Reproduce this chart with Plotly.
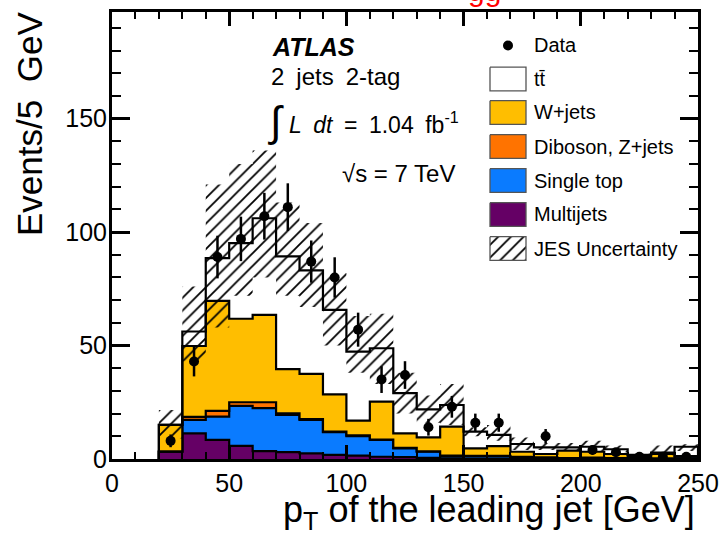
import plotly.graph_objects as go

# ---------------- data ----------------
bin_edges = [20, 30, 40, 50, 60, 70, 80, 90, 100, 110, 120, 130, 140, 150,
             160, 170, 180, 190, 200, 210, 220, 230, 240, 250]
bin_centers = [25, 35, 45, 55, 65, 75, 85, 95, 105, 115, 125, 135, 145, 155,
               165, 175, 185, 195, 205, 215, 225, 235, 245]

multijets = [3.2, 11.3, 8.4, 5.8, 3.5, 3.0, 2.5, 1.8, 1.5, 1.0, 0.8, 0.5, 0.3,
             0.2, 0.2, 0.1, 0.1, 0.0, 0.0, 0.0, 0.0, 0.0, 0.0]
single_top = [0.0, 5.9, 10.3, 17.6, 18.9, 16.4, 14.7, 10.0, 8.6, 7.4, 3.9, 2.7,
              1.0, 1.1, 1.1, 0.8, 0.5, 0.3, 0.5, 0.3, 0.3, 0.2, 1.0]
diboson_zjets = [0.2, 1.4, 2.5, 1.6, 2.6, 0.7, 0.4, 0.3, 0.3, 0.2, 0.2, 0.2,
                 0.2, 0.1, 0.1, 0.1, 0.1, 0.1, 0.1, 0.1, 0.1, 0.1, 0.0]
wjets = [11.6, 31.2, 48.5, 36.8, 38.5, 19.5, 19.9, 16.4, 6.5, 16.7, 6.4, 6.1,
         12.8, 3.3, 4.3, 2.2, 1.5, 3.3, 2.6, 1.8, 0.6, 1.9, 0.3]
ttbar = [0.0, 6.4, 18.8, 33.3, 42.6, 49.7, 45.6, 37.2, 30.4, 23.5, 17.7, 12.4,
         9.5, 7.4, 4.9, 3.4, 2.9, 1.4, 2.2, 2.1, 0.8, 0.6, 4.1]

jes_up = [21.6, 76, 121, 130, 136, 113, 104, 82, 63, 64, 38, 28, 33, 14, 15,
          9.5, 7, 7, 8, 6, 2.5, 6, 6.5]
jes_down = [9, 43, 58, 72, 80, 72, 67, 50, 38, 33, 20, 16, 15, 10, 8, 4, 4,
            3.5, 3.5, 3, 1, 1.5, 3.5]

data = [8, 43, 89, 97, 107, 111, 87, 80, 57, 35, 37, 14, 23, 16, 16, None, 10,
        None, 4, 3, 1, 1, 1]
data_err = [2.8, 6.6, 9.4, 9.8, 10.3, 10.5, 9.3, 8.9, 7.5, 5.9, 6.1, 3.7, 4.8,
            4.0, 4.0, 0, 3.2, 0, 2.0, 1.7, 1.0, 1.0, 1.0]

series_names = ["Multijets", "Single top", "Diboson, Z+jets", "W+jets", "tt\u0304"]
series_colors = ["#650065", "#0A7BFF", "#FF7300", "#FFBE00", "#FFFFFF"]

FONT = "Liberation Sans, Arial, Helvetica, sans-serif"

# plot-area geometry in pixels (used only to place labels / legend)
PL, PR, PT, PB = 112, 698, 12, 459


def px(x):
    return (x - PL) / (PR - PL)


def py(y):
    return (PB - y) / (PB - PT)


def step_xy(edges, vals):
    xs = [edges[0]] + list(edges) + [edges[-1]]
    ys = [0] + list(vals) + [vals[-1], 0]
    return xs, ys


fig = go.Figure()

# stacked histograms
components = [multijets, single_top, diboson_zjets, wjets, ttbar]
cum = [0.0] * len(bin_centers)
for i, (comp, name, col) in enumerate(zip(components, series_names, series_colors)):
    cum = [a + b for a, b in zip(cum, comp)]
    xs, ys = step_xy(bin_edges, cum)
    fig.add_trace(go.Scatter(
        x=xs, y=ys, mode="lines", line=dict(shape="hv", color="black", width=2.2),
        fill="tozeroy" if i == 0 else "tonexty", fillcolor=col,
        name=name, showlegend=False, hoverinfo="skip"))

# JES uncertainty band
HATCH = dict(shape="/", fgcolor="black", fgopacity=1, size=9, solidity=0.2)
xs_d, ys_d = step_xy(bin_edges, jes_down)
xs_u, ys_u = step_xy(bin_edges, jes_up)
fig.add_trace(go.Scatter(x=xs_d, y=ys_d, mode="lines",
                         line=dict(shape="hv", width=0, color="rgba(0,0,0,0)"),
                         showlegend=False, hoverinfo="skip"))
fig.add_trace(go.Scatter(x=xs_u, y=ys_u, mode="lines",
                         line=dict(shape="hv", width=0, color="rgba(0,0,0,0)"),
                         fill="tonexty", fillcolor="rgba(0,0,0,0)",
                         fillpattern=dict(bgcolor="rgba(0,0,0,0)", **HATCH),
                         name="JES Uncertainty", showlegend=False, hoverinfo="skip"))

# data points
fig.add_trace(go.Scatter(
    x=bin_centers, y=data, mode="markers",
    marker=dict(color="black", size=10),
    error_y=dict(type="data", array=data_err, color="black", thickness=2.5, width=0),
    name="Data", showlegend=False, hoverinfo="skip"))

# ---------------- legend (drawn on a pixel-unit overlay axis) ----------------
legend_x0, legend_x1 = 490, 526
row_y = [79, 112.5, 146.5, 180.5, 214.5, 248.5]
legend_items = [("tt\u0304", "#FFFFFF", False), ("W+jets", "#FFBE00", False),
                ("Diboson, Z+jets", "#FF7300", False), ("Single top", "#0A7BFF", False),
                ("Multijets", "#650065", False), ("JES Uncertainty", "#FFFFFF", True)]


def ann(x, y, text, size, xanchor="left", yanchor="middle", angle=0, color="black"):
    fig.add_annotation(x=px(x), y=py(y), xref="paper", yref="paper", text=text,
                       showarrow=False, xanchor=xanchor, yanchor=yanchor,
                       textangle=angle,
                       font=dict(family=FONT, size=size, color=color))


for (label, col, pat), yc in zip(legend_items, row_y):
    h = 11.8
    kw = {}
    if pat:
        kw["fillpattern"] = dict(bgcolor="white", **HATCH)
    fig.add_trace(go.Scatter(
        x=[legend_x0, legend_x1, legend_x1, legend_x0, legend_x0],
        y=[yc - h, yc - h, yc + h, yc + h, yc - h],
        mode="lines", fill="toself", fillcolor=col,
        line=dict(color="#555555", width=1.3),
        xaxis="x2", yaxis="y2", showlegend=False, hoverinfo="skip", **kw))
    ann(532, yc, label, 20)

fig.add_trace(go.Scatter(x=[508], y=[45.5], mode="markers",
                         marker=dict(color="black", size=10),
                         xaxis="x2", yaxis="y2", showlegend=False, hoverinfo="skip"))
ann(532, 45, "Data", 20)

# ---------------- labels ----------------
ann(270, 47, "<b><i>ATLAS</i></b>", 25)
ann(269, 77, "2\u2002jets\u20022-tag", 24)
ann(266, 121, "\u222b", 42)
ann(287, 123, "<i>L</i>\u2002<i>dt</i>\u2002=\u20021.04\u2002fb<sup>-1</sup>", 23)
ann(340, 173, "\u221as = 7 TeV", 24)
ann(30, 10, "Events/5\u2002GeV", 35, xanchor="center", yanchor="top", angle=-90)
ann(697, 512, "p<sub>T</sub> of the leading jet [GeV]", 36, xanchor="right", yanchor="middle")
ann(484, 8.5, "gg", 30, xanchor="center", yanchor="bottom", color="red")

axis_common = dict(showline=True, linecolor="black", linewidth=3, mirror="allticks",
                   ticks="inside", tickcolor="black", tickwidth=2.5,
                   showgrid=False, zeroline=False, automargin=False,
                   tickfont=dict(family=FONT, size=25, color="black"))

fig.update_layout(
    width=721, height=537,
    margin=dict(l=PL, r=721 - PR, t=PT, b=537 - PB, autoexpand=False),
    paper_bgcolor="white", plot_bgcolor="white",
    showlegend=False,
    xaxis=dict(range=[0, 250], tick0=0, dtick=50, ticklen=14,
               minor=dict(dtick=10, ticklen=7, tickwidth=2, ticks="inside",
                          tickcolor="black"),
               **axis_common),
    yaxis=dict(range=[0, 197], tick0=0, dtick=50, ticklen=18, ticklabelstandoff=-3,
               minor=dict(dtick=10, ticklen=9, tickwidth=2, ticks="inside",
                          tickcolor="black"),
               **axis_common),
    xaxis2=dict(overlaying="x", range=[PL, PR], visible=False, anchor="y2",
                fixedrange=True, automargin=False),
    yaxis2=dict(overlaying="y", range=[PB, PT], visible=False, anchor="x2",
                fixedrange=True, automargin=False),
)

fig.write_html("out.html")
